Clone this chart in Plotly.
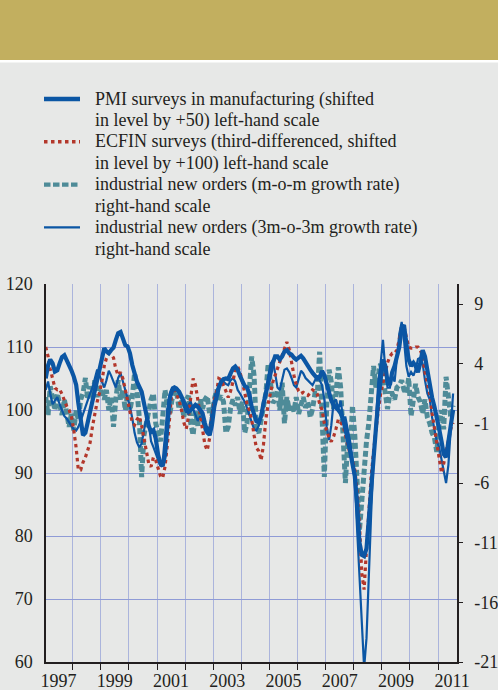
import pandas as pd
import plotly.graph_objects as go

# ---------------- data (monthly from Jan 1997) ----------------
start_month = "1997-01-01"

pmi = [105.0, 107.1, 108.0, 107.4, 106.1, 106.3, 107.4, 108.4, 108.7, 108.0, 107.3, 106.3,
       105.3, 104.0, 101.1, 97.9, 96.0, 96.4, 98.1, 99.7, 101.6, 102.6, 104.8, 106.6,
       108.5, 109.8, 109.3, 109.0, 109.5, 109.9, 111.1, 112.2, 112.4, 111.1, 110.3, 110.1,
       109.0, 107.1, 105.8, 104.5, 103.7, 102.9, 101.1, 99.0, 97.5, 96.5, 96.8, 95.5,
       92.9, 91.5, 91.1, 92.9, 98.4, 101.9, 103.1, 103.3, 103.3, 102.9, 102.1, 101.3,
       100.3, 99.7, 100.0, 100.5, 100.8, 100.5, 100.0, 99.5, 97.9, 96.6, 96.0, 97.6,
       100.5, 102.4, 103.6, 104.5, 104.9, 105.0, 104.9, 105.8, 106.6, 106.9, 106.4, 105.4,
       104.5, 103.8, 103.6, 102.5, 100.5, 99.0, 98.2, 98.0, 99.0, 101.0, 102.8, 104.5,
       106.0, 107.5, 108.5, 108.5, 108.0, 108.5, 109.3, 109.5, 109.0, 108.8, 108.3, 108.0,
       108.3, 108.6, 108.2, 107.5, 106.9, 106.4, 105.9, 105.4, 105.0, 105.2, 106.2, 105.5,
       104.0, 102.5, 101.5, 100.8, 100.5, 100.0, 99.5, 98.5, 97.0, 95.5, 93.5, 91.5,
       89.5, 85.0, 79.0, 77.0, 76.8, 78.0, 83.0, 88.5, 92.0, 97.0, 101.5, 105.0,
       108.0, 107.0, 104.5, 104.0, 106.0, 107.0, 108.5, 110.0, 113.0, 113.5, 110.5, 108.0,
       107.0, 107.5, 107.0, 106.0, 107.5, 109.5, 108.5, 106.0, 104.0, 102.0, 100.5, 99.0,
       97.0, 95.0, 93.0, 92.5, 95.0, 97.5, 100.0]

ecfin = [110.0, 108.5, 106.5, 104.7, 103.5, 103.2, 103.3, 102.5, 101.5, 100.6, 100.0, 99.0,
         96.8, 94.0, 90.5, 90.5, 91.7, 92.5, 93.6, 94.8, 97.4, 99.5, 101.3, 102.7,
         104.5, 107.0, 108.2, 109.0, 108.8, 108.3, 106.5, 105.5, 106.0, 105.0, 103.2, 101.8,
         99.8, 98.0, 97.6, 98.5, 99.0, 97.5, 95.5, 93.5, 91.5, 91.0, 92.5, 92.0,
         90.5, 89.5, 89.2, 91.0, 94.5, 99.5, 103.3, 103.4, 102.5, 101.5, 100.0, 98.0,
         97.0, 99.0, 102.0, 105.0, 104.0, 101.5, 99.0, 96.5, 94.5, 93.6, 95.5, 98.5,
         101.5, 103.0, 105.0, 104.8, 104.0, 103.0, 102.0, 103.0, 104.5, 106.5, 106.9, 106.0,
         104.5, 102.5, 101.0, 100.0, 98.5, 96.0, 94.0, 93.5, 92.0, 94.5, 98.5, 101.0,
         103.0, 104.5, 105.5, 106.5, 107.5, 108.8, 109.5, 110.8, 109.6, 107.5, 105.5, 104.0,
         103.0, 102.6, 102.8, 102.5, 102.3, 102.7, 103.2, 103.0, 102.5, 101.0, 100.0, 97.9,
         96.5, 95.5, 95.0, 95.8, 97.0, 98.5, 98.0, 97.5, 96.0, 94.5, 93.0, 92.0,
         90.5, 87.0, 82.0, 74.0, 71.5, 78.0, 84.0, 89.5, 93.5, 97.0, 100.0, 102.5,
         104.5, 106.0, 107.5, 108.5, 109.0, 109.0, 109.5, 111.0, 113.0, 113.2, 111.5, 110.0,
         109.8, 109.8, 110.0, 110.0, 109.5, 108.5, 106.0, 104.5, 102.5, 99.5, 97.0, 94.5,
         92.0, 90.0, 91.5, 93.5, 95.5, 97.0, 98.0]

orders_mom = [1.2, -0.3, 2.1, 1.0, 0.1, 1.5, 0.4, -0.3, 1.0, -0.4, -1.3, -0.2,
              -1.6, 0.1, -0.7, 1.0, 1.5, 2.8, 1.0, 2.1, 1.2, 2.6, 1.2, 2.1,
              1.5, 1.0, 1.8, 0.1, 1.2, -1.3, 1.0, 2.6, 1.0, 1.8, 0.1, 1.5,
              0.1, 1.2, 3.2, 1.8, -0.5, -5.5, -2.0, -1.0, 0.5, 1.0, 1.5, -1.0,
              -1.8, -2.5, -0.5, 1.8, 0.5, -0.3, 1.0, 1.8, 1.5, 0.2, 1.0, -0.5,
              1.0, 1.3, -1.0, -2.0, 0.0, -1.2, 1.0, 0.2, 1.0, 1.3, -0.2, -0.4,
              1.0, 1.8, 1.0, 1.3, 0.8, -1.8, -1.3, 0.3, 1.0, 0.5, 1.2, -0.2,
              0.8, -1.8, -1.0, 2.5, 4.6, 3.0, -1.5, -1.8, -0.5, 0.4, 1.5, 4.0,
              2.6, 0.7, 1.0, 1.8, 0.1, 2.4, -1.0, 1.2, 0.1, 0.6, 0.0, 1.2,
              -0.2, 0.5, 1.2, 0.3, 0.8, -0.5, 0.2, 1.5, 1.5, 5.0, 0.5, -5.5,
              0.5, 3.5, 2.5, 0.2, 1.5, 3.7, 2.0, -1.5, -6.0, -2.5, -4.0, 0.5,
              -2.0, -6.0, -10.0, -7.5, -4.5, -2.5, -1.0, 1.0, 3.8, 2.0, 3.0, 4.0,
              2.9, 1.0, 0.2, 1.5, 1.5, 1.0, 2.0, 2.2, 2.6, 1.8, 1.5, 2.8,
              -0.4, 1.0, 2.3, 1.2, 0.8, -0.2, 1.0, -0.5, -1.0, -1.8, -2.2, -3.4,
              -1.0, 0.1, -1.5, 2.9, 1.5, -0.5, 0.5]

orders_3m = [1.8, 2.5, 1.5, 0.6, 0.9, 1.2, 0.6, 0.0, -0.4, -0.6, -0.9, -1.3,
             -1.5, -1.6, -1.3, -0.8, -0.2, 0.4, 1.0, 1.5, 2.0, 2.8, 3.5, 3.0,
             2.4, 2.0, 2.6, 3.4, 3.0, 2.4, 2.0, 2.8, 3.2, 2.5, 1.8, 1.2,
             0.4, -0.6, -1.8, -2.6, -3.0, -2.7, -1.5, -0.5, -1.0, -2.5, -3.0, -3.5,
             -4.0, -4.6, -4.2, -2.0, 0.2, 1.5, 2.0, 2.1, 2.0, 1.6, 1.2, 0.4,
             -0.1, 0.6, 0.8, 0.2, -0.3, -0.8, -0.4, -0.9, -1.6, -1.9, -1.2, 0.0,
             1.2, 1.8, 2.1, 2.3, 2.5, 2.3, 2.2, 2.6, 2.8, 2.5, 1.8, 1.5,
             1.2, 0.8, 0.3, -0.3, -1.0, -1.5, -1.6, -1.2, -0.3, 0.8, 2.0, 3.0,
             4.0, 4.3, 3.0, 2.0, 1.8, 2.8, 3.5, 3.6, 3.3, 2.8, 2.2, 2.0,
             2.6, 3.4, 3.2, 2.8, 2.6, 2.4, 2.2, 2.6, 3.0, 2.6, 2.2, 1.0,
             -1.3, -2.4, -1.2, 0.8, 1.0, 0.2, 0.9, -0.5, -0.5, -1.5, -2.5, -4.0,
             -6.0, -10.0, -14.0, -18.0, -21.5, -19.0, -13.5, -8.5, -4.0, -0.5, 2.5, 4.0,
             6.0, 3.5, 2.0, 2.0, 3.0, 2.5, 4.5, 6.5, 7.5, 6.0, 3.8, 2.9,
             3.3, 3.0, 3.5, 4.4, 4.5, 4.0, 2.6, 1.5, 1.0, -0.5, -1.5, -2.5,
             -3.0, -4.0, -5.2, -6.0, -4.5, -1.0, 1.5]

left_ticks = [60, 70, 80, 90, 100, 110, 120]
right_ticks = [-21, -16, -11, -6, -1, 4, 9]
right_tick_text = ["-21", "-16", "-11", "-6", "-1", "4", "9"]
year_labels = ["1997", "1999", "2001", "2003", "2005", "2007", "2009", "2011"]
grid_years = list(range(1997, 2012))

legend_lines = [
    ["PMI surveys in manufacturing (shifted", "in level by +50) left-hand scale"],
    ["ECFIN surveys (third-differenced, shifted", "in level by +100) left-hand scale"],
    ["industrial new orders (m-o-m growth rate)", "right-hand scale"],
    ["industrial new orders (3m-o-3m growth rate)", "right-hand scale"],
]
names = ["PMI surveys in manufacturing (shifted in level by +50) left-hand scale",
         "ECFIN surveys (third-differenced, shifted in level by +100) left-hand scale",
         "industrial new orders (m-o-m growth rate) right-hand scale",
         "industrial new orders (3m-o-3m growth rate) right-hand scale"]

# ---------------- styling ----------------
dates = pd.date_range(start_month, periods=len(pmi), freq="MS") + pd.Timedelta(days=14)

FONT = "Liberation Serif"
FS = 18
TXT = "#231f20"
BLUE = "#0b56a4"
RED = "#b3372b"
TEAL = "#4e8b98"
BG = "#e7e8e7"

styles = [
    dict(color=BLUE, width=4.2),
    dict(color=RED, width=3.2, dash="3.5px,3.5px"),
    dict(color=TEAL, width=5, dash="6px,3px"),
    dict(color=BLUE, width=2.2),
]
legend_styles = [
    dict(color=BLUE, width=4.3),
    dict(color=RED, width=3.5, dash="3.5px,3.5px"),
    dict(color=TEAL, width=4.2, dash="6.5px,2.5px"),
    dict(color=BLUE, width=2.3),
]

fig = go.Figure()
# right-hand scale series (base axis y)
fig.add_trace(go.Scatter(x=dates, y=orders_mom, name=names[2], yaxis="y",
                         mode="lines", line=styles[2]))
fig.add_trace(go.Scatter(x=dates, y=orders_3m, name=names[3], yaxis="y",
                         mode="lines", line=styles[3]))
# left-hand scale series (overlaying axis y2)
fig.add_trace(go.Scatter(x=dates, y=ecfin, name=names[1], yaxis="y2",
                         mode="lines", line=styles[1]))
fig.add_trace(go.Scatter(x=dates, y=pmi, name=names[0], yaxis="y2",
                         mode="lines", line=styles[0]))

W, H = 498, 690
ML, MR, MT, MB = 46, 41, 284, 28
pw, ph = W - ML - MR, H - MT - MB

def px_x(p):
    return (p - ML) / pw

def px_y(p):
    return (H - MB - p) / ph

shapes = [
    dict(type="rect", xref="paper", yref="paper", x0=px_x(0), x1=px_x(W), y0=px_y(60), y1=px_y(0),
         fillcolor="#c2af5f", line=dict(width=0), layer="below"),
    dict(type="rect", xref="paper", yref="paper", x0=px_x(0), x1=px_x(W), y0=px_y(62.5), y1=px_y(60),
         fillcolor="#ffffff", line=dict(width=0), layer="below"),
]
annotations = []

# hand-placed legend (symbol + two text lines per series)
item_top = 99.0
item_step = 42.8
line_step = 21.4
for i, (lines, st) in enumerate(zip(legend_lines, legend_styles)):
    yc = item_top + i * item_step
    shapes.append(dict(type="line", xref="paper", yref="paper",
                       x0=px_x(44), x1=px_x(80), y0=px_y(yc), y1=px_y(yc), line=st))
    for j, t in enumerate(lines):
        annotations.append(dict(xref="paper", yref="paper", x=px_x(93), y=px_y(yc + j * line_step),
                                xanchor="left", yanchor="middle", showarrow=False, text=t,
                                font=dict(family=FONT, size=FS, color=TXT)))

fig.update_layout(
    width=W, height=H,
    margin=dict(l=ML, r=MR, t=MT, b=MB, pad=0, autoexpand=False),
    paper_bgcolor=BG, plot_bgcolor=BG,
    font=dict(family=FONT, size=FS, color=TXT),
    shapes=shapes, annotations=annotations,
    showlegend=False,
    xaxis=dict(type="date", range=["1997-01-19", "2011-09-04"], automargin=False,
               tickmode="array", tickvals=[f"{y}-07-02" for y in year_labels], ticktext=year_labels,
               ticks="", showgrid=False, zeroline=False, ticklabeloverflow="allow",
               showline=True, linecolor=TXT, linewidth=1.5, ticklabelstandoff=2,
               tickfont=dict(family=FONT, size=FS, color=TXT),
               minor=dict(tickmode="array", tickvals=[f"{y}-01-01" for y in grid_years],
                          ticks="outside", ticklen=6, tickcolor=TXT, tickwidth=1.3,
                          showgrid=True, gridcolor="#abb4dc", gridwidth=1.2)),
    yaxis=dict(side="right", range=[-21, 10.676], tickmode="array", tickvals=right_ticks,
               ticktext=right_tick_text,
               automargin=False, ticklabeloverflow="allow",
               ticks="outside", ticklen=4, tickcolor=TXT, tickwidth=1.3,
               showgrid=False, zeroline=False, showline=True, linecolor=TXT, linewidth=1.5,
               tickfont=dict(family=FONT, size=FS, color=TXT), ticklabelstandoff=8),
    yaxis2=dict(side="left", overlaying="y", range=[60, 120], tickmode="array", tickvals=left_ticks,
                automargin=False, ticklabeloverflow="allow",
                ticks="", showgrid=True, gridcolor="#8f9bd6", gridwidth=1.2, zeroline=False,
                showline=True, linecolor=TXT, linewidth=1.5,
                tickfont=dict(family=FONT, size=FS, color=TXT), ticklabelstandoff=8),
)

fig.write_html("out.html", config={"displayModeBar": False},
               post_script="document.body.style.margin='0px';")
